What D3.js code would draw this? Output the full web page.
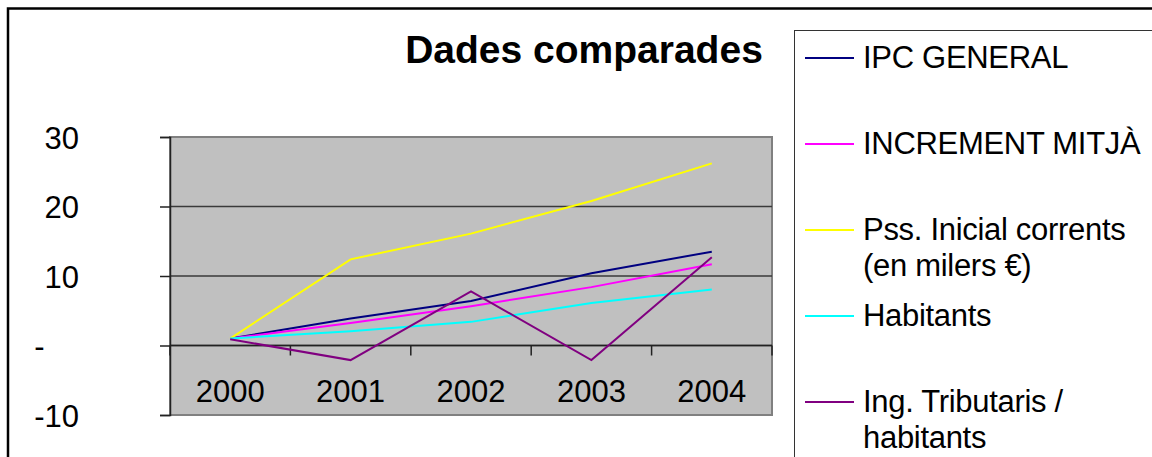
<!DOCTYPE html>
<html>
<head>
<meta charset="utf-8">
<script src="https://cdnjs.cloudflare.com/ajax/libs/d3/7.8.5/d3.min.js"></script>
<style>
  body { margin: 0; background: #fff; overflow: hidden; }
  text { font-family: 'Liberation Sans', Arial, sans-serif; fill: #000; }
</style>
</head>
<body>
<div id="chart"></div>
<script>
var years = ['2000', '2001', '2002', '2003', '2004'];

var ipcGeneral = [1, 3.9, 6.4, 10.4, 13.5];
var incrementMitja = [1, 3.25, 5.65, 8.4, 11.7];
var pssInicial = [1, 12.4, 16.1, 20.8, 26.2];
var habitants = [1, 2.05, 3.4, 6.1, 8.05];
var ingTributaris = [0.9, -2.1, 7.8, -2.1, 12.7];

var seriesNames = [
    ['IPC GENERAL'],
    ['INCREMENT MITJÀ'],
    ['Pss. Inicial corrents', '(en milers €)'],
    ['Habitants'],
    ['Ing. Tributaris /', 'habitants']
];
var seriesColors = ['#000080', '#ff00ff', '#ffff00', '#00ffff', '#800080'];

var yTicks = [-10, 0, 10, 20, 30];
var yTickLabels = ['-10', '-\u2007\u2007', '10', '20', '30'];

var width = 1152,
    height = 457,
    svg = d3.select('#chart')
    .append('svg')
    .attr('width', width)
    .attr('height', height);

var plot = { left: 170, right: 772, top: 137, bottom: 415 };

var series = [ipcGeneral, incrementMitja, pssInicial, habitants, ingTributaris].map(function(values, i) {
    return { name: seriesNames[i], color: seriesColors[i], values: values };
});

// outer chart border (runs off the window on the right and bottom)
svg.append('rect')
    .attr('x', 8)
    .attr('y', 8.5)
    .attr('width', width + 20)
    .attr('height', height + 20)
    .attr('fill', '#fff')
    .attr('stroke', '#000')
    .attr('stroke-width', 2.5);

var x = d3.scaleBand()
    .domain(years)
    .range([plot.left, plot.right]);

var y = d3.scaleLinear()
    .domain([-10, 30])
    .range([plot.bottom, plot.top]);

// plot area
svg.append('rect')
    .attr('x', plot.left)
    .attr('y', plot.top)
    .attr('width', plot.right - plot.left)
    .attr('height', plot.bottom - plot.top)
    .attr('fill', '#c0c0c0')
    .attr('stroke', '#808080')
    .attr('stroke-width', 2);

// gridlines
svg.selectAll('.grid')
    .data(yTicks.filter(function(d) { return d > -10 && d < 30; }))
    .enter()
    .append('line')
    .attr('class', 'grid')
    .attr('x1', plot.left)
    .attr('x2', plot.right)
    .attr('y1', function(d) { return y(d); })
    .attr('y2', function(d) { return y(d); })
    .attr('stroke', '#3a3a3a')
    .attr('stroke-width', 1.5);

// y axis
var yAxis = svg.append('g')
    .attr('transform', 'translate(' + plot.left + ',0)')
    .call(d3.axisLeft(y)
        .tickValues(yTicks)
        .tickSize(10)
        .tickPadding(81)
        .tickFormat(function(d, i) { return yTickLabels[i]; }));
yAxis.select('.domain').attr('stroke', '#222').attr('stroke-width', 1.5);
yAxis.selectAll('.tick line').attr('stroke', '#222').attr('stroke-width', 1.5);
yAxis.selectAll('text')
    .attr('font-size', 31)
    .attr('font-family', null)
    .attr('fill', '#000')
    .attr('dy', '0.36em');

// x axis at zero with ticks on category boundaries
svg.append('line')
    .attr('x1', plot.left)
    .attr('x2', plot.right)
    .attr('y1', y(0))
    .attr('y2', y(0))
    .attr('stroke', '#222')
    .attr('stroke-width', 1.5);

svg.selectAll('.xtick')
    .data(years.map(function(d) { return x(d); }).concat([x.range()[1]]))
    .enter()
    .append('line')
    .attr('class', 'xtick')
    .attr('x1', function(d) { return d; })
    .attr('x2', function(d) { return d; })
    .attr('y1', y(0))
    .attr('y2', y(0) + 10)
    .attr('stroke', '#222')
    .attr('stroke-width', 1.5);

svg.selectAll('.xlabel')
    .data(years)
    .enter()
    .append('text')
    .attr('class', 'xlabel')
    .attr('x', function(d) { return x(d) + x.bandwidth() / 2; })
    .attr('y', 402)
    .attr('text-anchor', 'middle')
    .attr('font-size', 31)
    .text(function(d) { return d; });

// lines
var line = d3.line()
    .x(function(d, i) { return x(years[i]) + x.bandwidth() / 2; })
    .y(function(d) { return y(d); });

svg.selectAll('.series')
    .data(series)
    .enter()
    .append('path')
    .attr('class', 'series')
    .attr('fill', 'none')
    .attr('stroke', function(d) { return d.color; })
    .attr('stroke-width', 2)
    .attr('d', function(d) { return line(d.values); });

// title
svg.append('text')
    .attr('x', 584)
    .attr('y', 63)
    .attr('text-anchor', 'middle')
    .attr('font-size', 39)
    .attr('font-weight', 'bold')
    .text('Dades comparades');

// legend
var legend = svg.append('g');
legend.append('rect')
    .attr('x', 794.5)
    .attr('y', 30.5)
    .attr('width', 400)
    .attr('height', 500)
    .attr('fill', '#fff')
    .attr('stroke', '#333')
    .attr('stroke-width', 1);

var items = legend.selectAll('.item')
    .data(series)
    .enter()
    .append('g')
    .attr('class', 'item')
    .attr('transform', function(d, i) { return 'translate(0,' + (68 + i * 86) + ')'; });

items.append('line')
    .attr('x1', 805)
    .attr('x2', 854)
    .attr('y1', -10)
    .attr('y2', -10)
    .attr('stroke', function(d) { return d.color; })
    .attr('stroke-width', 2);

items.append('text')
    .attr('font-size', 31)
    .attr('letter-spacing', -0.3)
    .selectAll('tspan')
    .data(function(d) { return d.name; })
    .enter()
    .append('tspan')
    .attr('x', 863)
    .attr('y', function(d, i) { return i * 36; })
    .text(function(d) { return d; });
</script>
</body>
</html>
